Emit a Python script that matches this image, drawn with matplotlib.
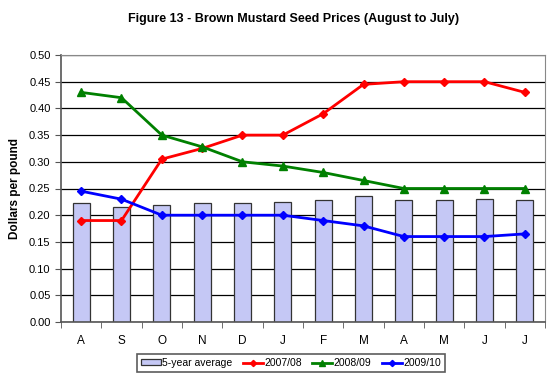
import matplotlib.pyplot as plt
import numpy as np

plt.rcParams['font.family'] = ['Liberation Sans', 'DejaVu Sans']

months = ['A', 'S', 'O', 'N', 'D', 'J', 'F', 'M', 'A', 'M', 'J', 'J']
avg5 = [0.222, 0.216, 0.220, 0.223, 0.223, 0.225, 0.229, 0.236, 0.229, 0.228, 0.230, 0.228]
p0708 = [0.19, 0.19, 0.305, 0.325, 0.35, 0.35, 0.39, 0.445, 0.45, 0.45, 0.45, 0.43]
p0809 = [0.43, 0.42, 0.35, 0.328, 0.30, 0.292, 0.28, 0.265, 0.25, 0.25, 0.25, 0.25]
p0910 = [0.245, 0.23, 0.20, 0.20, 0.20, 0.20, 0.19, 0.18, 0.16, 0.16, 0.16, 0.165]

fig = plt.figure(figsize=(5.54, 3.78), dpi=100)
ax = fig.add_axes([61 / 554, 1 - 322 / 378, 484 / 554, 267 / 378])

x = np.arange(len(months))
b = ax.bar(x, avg5, width=0.42, color='#c5c8f5', edgecolor='#333333', linewidth=0.9,
           label='5-year average', zorder=2)
l1, = ax.plot(x, p0708, color='#ff0000', marker='D', markersize=4.5, linewidth=2, label='2007/08', zorder=3)
l2, = ax.plot(x, p0809, color='#008000', marker='^', markersize=5.5, linewidth=2, label='2008/09', zorder=3)
l3, = ax.plot(x, p0910, color='#0000ff', marker='D', markersize=4.5, linewidth=2, label='2009/10', zorder=3)

ax.set_xlim(-0.5, len(months) - 0.5)
ax.set_ylim(0, 0.5)
ax.set_yticks(np.arange(0, 0.501, 0.05))
ax.set_yticklabels(['%.2f' % v for v in np.arange(0, 0.501, 0.05)], fontsize=8)
ax.yaxis.grid(True, color='black', linewidth=0.9, zorder=0)
ax.set_axisbelow(True)

ax.set_xticks(x)
ax.set_xticklabels(months, fontsize=8.5)
ax.tick_params(axis='x', length=0, pad=9)
ax.set_xticks(np.arange(-0.5, len(months), 1), minor=True)
ax.tick_params(axis='x', which='minor', length=4, direction='out', color='#555555')
ax.tick_params(axis='y', length=4, direction='out', color='#555555')

for s in ['top', 'right']:
    ax.spines[s].set_color('#888888')
for s in ['left', 'bottom']:
    ax.spines[s].set_color('#555555')
    ax.spines[s].set_linewidth(1.2)

ax.set_ylabel('Dollars per pound', fontsize=8.5, fontweight='bold', labelpad=6)
fig.suptitle('Figure 13 - Brown Mustard Seed Prices (August to July)', fontsize=9,
             fontweight='bold', y=0.965, x=0.53)

leg = fig.legend([b, l1, l2, l3], ['5-year average', '2007/08', '2008/09', '2009/10'],
                 loc='center', bbox_to_anchor=(291 / 554, 1 - 363 / 378), ncol=4,
                 fontsize=7.5, frameon=True, fancybox=False, edgecolor='#333333',
                 handlelength=1.9, handleheight=0.5, handletextpad=0.15, columnspacing=1.0,
                 borderpad=0.4, markerscale=0.7)
leg.get_frame().set_linewidth(1.2)

fig.savefig('out.png', dpi=100)
